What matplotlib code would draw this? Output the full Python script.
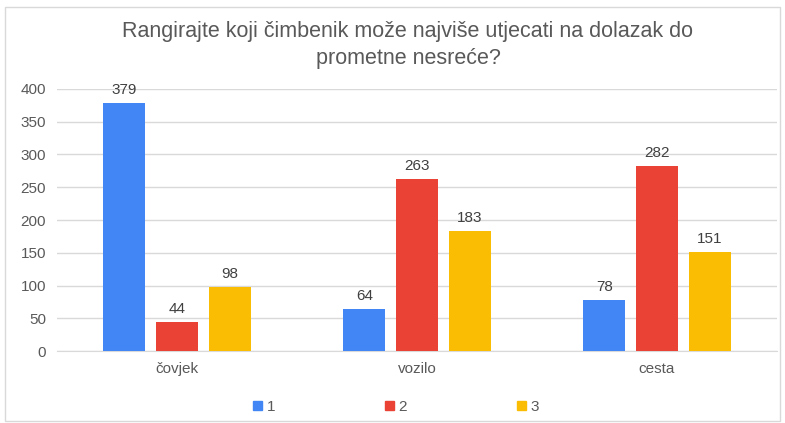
import numpy as np
import matplotlib.pyplot as plt
from matplotlib.patches import Rectangle

plt.rcParams['font.family'] = ['Liberation Sans', 'DejaVu Sans']

categories = ["čovjek", "vozilo", "cesta"]
series_names = ["1", "2", "3"]
values = {
    "1": [379, 64, 78],
    "2": [44, 263, 282],
    "3": [98, 183, 151],
}
colors = ["#4285F4", "#EA4335", "#FBBC04"]
text_color = "#595959"

fig = plt.figure(figsize=(7.85, 4.23), dpi=100)
ax = fig.add_axes([57 / 785, 1 - 351 / 423, 720 / 785, 262 / 423])

x = np.arange(len(categories))
width = 0.175
step = 0.219
for i, name in enumerate(series_names):
    pos = x + (i - 1) * step
    bars = ax.bar(pos, values[name], width, color=colors[i], label=name, zorder=3)
    for b, v in zip(bars, values[name]):
        ax.text(b.get_x() + b.get_width() / 2, v + 9, str(v), ha="center", va="bottom",
                fontsize=11, color="#404040")

ax.set_xlim(-0.5, 2.5)
ax.set_ylim(0, 400)
ax.set_yticks(range(0, 401, 50))
ax.set_xticks(x)
ax.set_xticklabels(categories)
ax.yaxis.grid(True, color="#d9d9d9", linewidth=1, zorder=0)
for s in ax.spines.values():
    s.set_visible(False)
ax.spines["bottom"].set_visible(True)
ax.spines["bottom"].set_color("#d9d9d9")
ax.tick_params(axis="both", length=0, labelsize=11, labelcolor=text_color)
ax.tick_params(axis="x", pad=8)
ax.tick_params(axis="y", pad=8)

fig.text(408 / 785, 1 - 45 / 423, "Rangirajte koji čimbenik može najviše utjecati na dolazak do\nprometne nesreće?",
         ha="center", va="center", fontsize=15.5, color=text_color, linespacing=1.35)

handles = [Rectangle((0, 0), 1, 1, color=c) for c in colors]
fig.legend(handles, series_names, loc="center", bbox_to_anchor=(396 / 785, 1 - 407 / 423),
           ncol=3, frameon=False, fontsize=11, handlelength=0.6, handleheight=0.6,
           handletextpad=0.3, columnspacing=7.2, labelcolor=text_color)

fig.patches.append(Rectangle((5 / 785, 2 / 423), 775 / 785, 414 / 423, transform=fig.transFigure,
                             fill=False, edgecolor="#d9d9d9", linewidth=1))

fig.savefig("out.png", dpi=100)
